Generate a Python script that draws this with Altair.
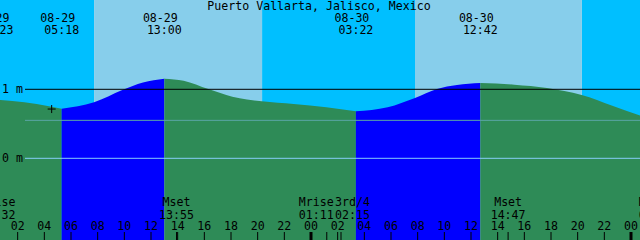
import altair as alt
import pandas as pd

# ---------------- data (hours counted from 08-29 00:00 local) ----------------
TITLE = "Puerto Vallarta, Jalisco, Mexico"
X_START, X_END = 0.675, 48.675

tide_hours = [0.383, 0.7, 2.5, 4.35, 5.3, 7.73, 9.85, 11.4, 13.0, 14.45, 16.3,
              18.1, 20.3, 22.7, 25.15, 27.367, 29.75, 31.8, 33.45, 34.95,
              36.7, 39.25, 41.7, 44.3, 46.6, 48.7]
tide_m = [0.85, 0.845, 0.812, 0.754, 0.719, 0.812, 0.99, 1.10, 1.154, 1.125,
          1.004, 0.893, 0.826, 0.787, 0.739, 0.681, 0.739, 0.874, 1.004,
          1.062, 1.091, 1.067, 1.019, 0.917, 0.762, 0.617]

event_hours = [0.383, 5.3, 13.0, 27.367, 36.7]
event_dates = ["08-29", "08-29", "08-29", "08-30", "08-30"]
event_times = ["00:23", "05:18", "13:00", "03:22", "12:42"]
event_kind = ["high", "low", "high", "low", "high"]

sunrise_hours = [7.73, 31.8]
sunset_hours = [20.33, 44.32]

moon_hours = [0.533, 13.917, 25.183, 26.25, 38.783, 49.883]
moon_names = ["Mrise", "Mset", "Mrise", "3rd/4", "Mset", "Mrise"]
moon_times = ["00:32", "13:55", "01:11", "02:15", "14:47", "01:53"]

tick_hours = list(range(2, 49, 2))
tick_labels = ["02", "04", "06", "08", "10", "12", "14", "16", "18", "20", "22", "00",
               "02", "04", "06", "08", "10", "12", "14", "16", "18", "20", "22", "00"]

level_one_m = 1.0
level_msl_m = 0.55
level_zero_m = 0.0
axis_labels = ["1 m", "0 m"]
axis_label_m = [1.0, 0.0]

now_hour, now_m = 4.55, 0.714

# ---------------- tables ----------------
bounds = event_hours + [max(tide_hours)]
seg_rows = []
for i in range(len(bounds) - 1):
    a, b = bounds[i], bounds[i + 1]
    phase = "flood" if event_kind[i] == "low" else "ebb"
    for h, m in zip(tide_hours, tide_m):
        if a - 1e-9 <= h <= b + 1e-9:
            seg_rows.append({"h": h, "m": m, "seg": i, "phase": phase})
tide_df = pd.DataFrame(seg_rows)

night_df = pd.DataFrame({
    "s": [X_START - 1] + sunset_hours,
    "e": sunrise_hours + [X_END + 1],
})
day_df = pd.DataFrame({"s": sunrise_hours, "e": sunset_hours})
ev_df = pd.DataFrame({"h": event_hours, "d": event_dates, "t": event_times})
moon_df = pd.DataFrame({"h": moon_hours, "n": moon_names, "t": moon_times,
                        "i": list(range(len(moon_hours)))})
tick_df = pd.DataFrame({"h": tick_hours, "l": tick_labels})
axl_df = pd.DataFrame({"m": axis_label_m, "l": axis_labels})
now_df = pd.DataFrame({"h": [now_hour], "m": [now_m]})

# ---------------- scales ----------------
PX_PER_M = 69.0
ZERO_PX = 158.3
H = 240
xs = alt.Scale(domain=[X_START, X_END], nice=False, zero=False)
ys = alt.Scale(domain=[(ZERO_PX - H) / PX_PER_M, ZERO_PX / PX_PER_M], nice=False, zero=False)
X = lambda f: alt.X(f, type="quantitative", scale=xs, axis=None)
X2 = lambda f: alt.X2(f)
Y = lambda f: alt.Y(f, type="quantitative", scale=ys, axis=None)

FONT = "DejaVu Sans Mono"
FS = 11.6

night = alt.Chart(night_df).mark_rect(color="#00BFFF", clip=True).encode(
    x=X("s"), x2=X2("e"), y=alt.value(0), y2=alt.value(H))
day = alt.Chart(day_df).mark_rect(color="#87CEEB", clip=True).encode(
    x=X("s"), x2=X2("e"), y=alt.value(0), y2=alt.value(H))

water = alt.Chart(tide_df).mark_area(interpolate="monotone", clip=True).encode(
    x=X("h"),
    y=alt.Y("m:Q", scale=ys, axis=None, stack=None),
    y2=alt.value(H),
    color=alt.Color("phase:N", scale=alt.Scale(domain=["ebb", "flood"],
                                               range=["#2E8B57", "#0000FF"]), legend=None),
    detail="seg:N",
)


def level_rule(val, col):
    return alt.Chart(pd.DataFrame({"m": [val]})).mark_rule(strokeWidth=1, color=col).encode(
        y=Y("m"), x=alt.value(25), x2=alt.value(640))


lv_one = level_rule(level_one_m, "#000000")
lv_msl = level_rule(level_msl_m, "#5aa6a6")
lv_zero = level_rule(level_zero_m, "#87CEFA")

axl = alt.Chart(axl_df).mark_text(font=FONT, fontSize=FS, align="left", baseline="alphabetic",
                                  dy=4, color="black").encode(
    y=Y("m"), x=alt.value(2), text="l:N")

title = alt.Chart(pd.DataFrame({"t": [TITLE]})).mark_text(
    font=FONT, fontSize=FS, align="center", baseline="alphabetic", color="black").encode(
    x=alt.value(319), y=alt.value(10), text="t:N")

ev_date = alt.Chart(ev_df).mark_text(font=FONT, fontSize=FS, align="center",
                                     baseline="alphabetic", dx=-4, color="black").encode(
    x=X("h"), y=alt.value(22), text="d:N")
ev_time = alt.Chart(ev_df).mark_text(font=FONT, fontSize=FS, align="center",
                                     baseline="alphabetic", color="black").encode(
    x=X("h"), y=alt.value(34), text="t:N")

moon_layers = []
shifts = {2: -10.5, 3: 11.5}
for sel, dx in [(None, 0)] + list(shifts.items()):
    if sel is None:
        d = moon_df[~moon_df["i"].isin(list(shifts.keys()))]
    else:
        d = moon_df[moon_df["i"] == sel]
    base = alt.Chart(d)
    moon_layers.append(base.mark_text(font=FONT, fontSize=FS, align="center",
                                      baseline="alphabetic", dx=dx, color="black").encode(
        x=X("h"), y=alt.value(206), text="n:N"))
    moon_layers.append(base.mark_text(font=FONT, fontSize=FS, align="center",
                                      baseline="alphabetic", dx=dx, color="black").encode(
        x=X("h"), y=alt.value(218.5), text="t:N"))

tick_lbl = alt.Chart(tick_df).mark_text(font=FONT, fontSize=FS, align="center",
                                        baseline="alphabetic", color="black").encode(
    x=X("h"), y=alt.value(230), text="l:N")

hour_ticks = alt.Chart(tick_df[tick_df["h"] % 24 != 0]).mark_rule(color="black", strokeWidth=1).encode(
    x=X("h"), y=alt.value(232), y2=alt.value(240))
mid_ticks = alt.Chart(tick_df[tick_df["h"] % 24 == 0]).mark_rule(color="black", strokeWidth=3).encode(
    x=X("h"), y=alt.value(232), y2=alt.value(240))
moon_ticks = alt.Chart(moon_df).mark_rule(color="black", strokeWidth=1, clip=True).encode(
    x=X("h"), y=alt.value(232), y2=alt.value(240))

now_mark = alt.Chart(now_df).mark_point(shape="M-1,0L1,0M0,-1L0,1", size=64, filled=False,
                                        stroke="black", strokeWidth=1, opacity=1).encode(
    x=X("h"), y=Y("m"))

chart = alt.layer(
    night, day, water, lv_one, lv_msl, lv_zero, axl, title, ev_date, ev_time, *moon_layers,
    tick_lbl, hour_ticks, mid_ticks, moon_ticks, now_mark,
).properties(
    width=640, height=H, padding=0, autosize=alt.AutoSizeParams(type="none"),
).configure_view(stroke=None)

chart.save("out.html", embed_options={"renderer": "svg", "actions": False})
